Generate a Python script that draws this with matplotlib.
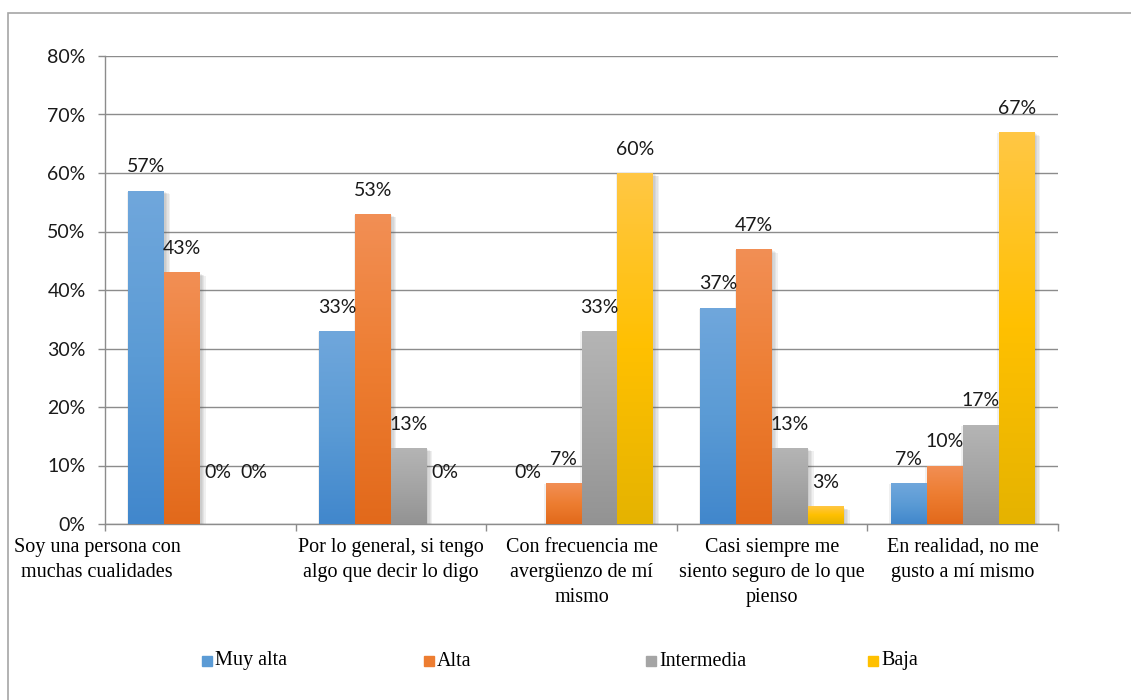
import numpy as np
import matplotlib
matplotlib.use("Agg")
import matplotlib.pyplot as plt
import matplotlib.patheffects as pe
from matplotlib.patches import Rectangle
from matplotlib.colors import LinearSegmentedColormap
from matplotlib.transforms import offset_copy

# data
categories = [
    "Soy una persona con\nmuchas cualidades",
    "Por lo general, si tengo\nalgo que decir lo digo",
    "Con frecuencia me\navergüenzo de mí\nmismo",
    "Casi siempre me\nsiento seguro de lo que\npienso",
    "En realidad, no me\ngusto a mí mismo",
]
series = ["Muy alta", "Alta", "Intermedia", "Baja"]
muy_alta = [57, 33, 0, 37, 7]
alta = [43, 53, 7, 47, 10]
intermedia = [0, 13, 33, 13, 17]
baja = [0, 0, 60, 3, 67]
values = [muy_alta, alta, intermedia, baja]
yticks = [0, 10, 20, 30, 40, 50, 60, 70, 80]

# gradient colours: top, middle, bottom
grads = [
    ["#70a7dc", "#5b9bd5", "#4187cc"],
    ["#f28f55", "#ed7d31", "#e2691b"],
    ["#b5b5b5", "#a5a5a5", "#939393"],
    ["#ffc745", "#ffc000", "#e5b300"],
]
legend_cols = ["#5b9bd5", "#ed7d31", "#a5a5a5", "#ffc000"]

num_font = "Lato"
txt_font = "Liberation Serif"
grid_col = "#8c8c8c"

fig = plt.figure(figsize=(11.31, 7), dpi=100)
ax = fig.add_axes([105 / 1131, 1 - 524 / 700, (1058 - 105) / 1131, (524 - 56) / 700])

# outer frame
fig.patches.append(Rectangle((8 / 1131, -0.05), 1.2, 1 - 13 / 700 + 0.05,
                             transform=fig.transFigure, fill=False,
                             edgecolor="#a6a6a6", lw=1.2))

x = np.arange(len(categories))
w = 0.1885
grad_img = np.linspace(0, 1, 256).reshape(-1, 1)

# soft shadow, a few faint offset copies
shadow = [pe.SimplePatchShadow(offset=o, shadow_rgbFace="#606060", alpha=0.09)
          for o in [(1, -1), (2, -1.5), (3, -2), (4, -2.5), (-1, -1)]]

for j, (name, vals) in enumerate(zip(series, values)):
    pos = x + (j - 1.5) * w
    bars = ax.bar(pos, vals, w, color=legend_cols[j], zorder=3,
                  path_effects=shadow + [pe.Normal()])
    cmap = LinearSegmentedColormap.from_list("g%d" % j, grads[j][::-1])
    for b, v in zip(bars, vals):
        if v > 0:
            im = ax.imshow(grad_img, cmap=cmap, aspect="auto", origin="lower",
                           extent=[b.get_x(), b.get_x() + b.get_width(), 0, v], zorder=4)
            im.set_clip_path(b)
        off = 17 if v > 0 else 37
        ax.annotate("%d%%" % v, (b.get_x() + b.get_width() / 2, v), xytext=(0, off),
                    textcoords="offset points", ha="center", va="center",
                    fontsize=14, family=num_font, color="#1a1a1a", zorder=5)

ax.set_xlim(-0.5, len(categories) - 0.5)
ax.set_ylim(0, 80)
ax.set_yticks(yticks)
ax.set_yticklabels(["%d%%" % t for t in yticks], family=num_font, fontsize=14, color="#1a1a1a")
ax.set_xticks(np.arange(len(categories) + 1) - 0.5)
ax.set_xticklabels([])
ax.tick_params(axis="both", direction="out", length=5, width=1, color=grid_col)
ax.tick_params(axis="y", pad=9)
ax.yaxis.grid(True, color=grid_col, lw=1, zorder=0)
ax.set_axisbelow(True)
for s in ["top", "right"]:
    ax.spines[s].set_visible(False)
for s in ["left", "bottom"]:
    ax.spines[s].set_color(grid_col)
    ax.spines[s].set_linewidth(1)

# category labels
for i, lab in enumerate(categories):
    tr = ax.get_xaxis_transform()
    if i == 0:
        tr = offset_copy(tr, fig=fig, x=-103, y=0, units="dots")
    ax.text(i, -0.03, lab, transform=tr, ha="center", va="top", fontsize=14.5,
            family=txt_font, linespacing=1.42, color="black")

# legend
for j, name in enumerate(series):
    x0 = (202 + j * 222) / 1131
    fig.patches.append(Rectangle((x0, 1 - 666 / 700), 10 / 1131, 10 / 700,
                                 transform=fig.transFigure, color=legend_cols[j]))
    fig.text(x0 + 13 / 1131, 1 - 661 / 700, name, ha="left", va="center",
             fontsize=14.5, family=txt_font, color="black")

fig.savefig("out.png", dpi=100)
